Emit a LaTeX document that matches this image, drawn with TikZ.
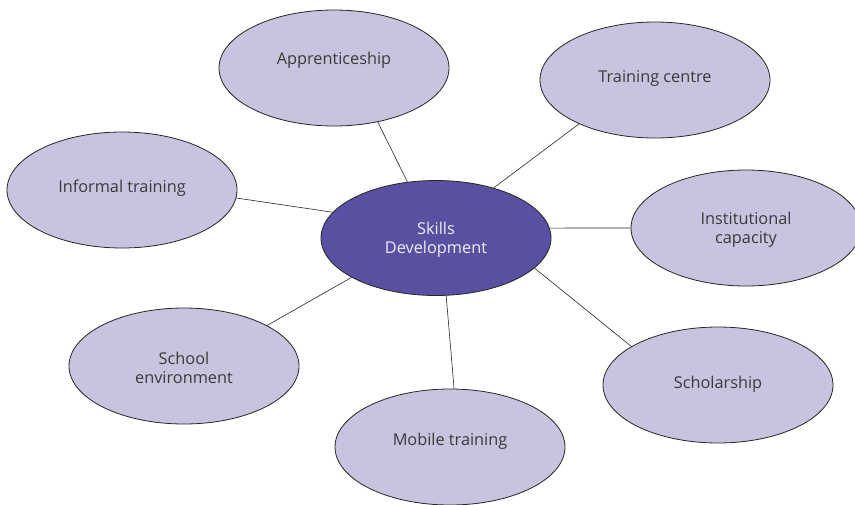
\documentclass[tikz,border=0pt]{standalone}
\usepackage{fontspec}
\setmainfont{Open Sans}
\usetikzlibrary{shapes.geometric}
\definecolor{petal}{HTML}{C8C4E0}
\definecolor{hub}{HTML}{5A50A2}
\definecolor{ink}{HTML}{3A3A3A}
\begin{document}
\begin{tikzpicture}[x=1pt,y=-1pt,
  petalnode/.style={ellipse, draw=black!85, line width=0.8pt, fill=petal,
    minimum width=230pt, minimum height=116pt, inner sep=0pt},
  hubnode/.style={petalnode, fill=hub, minimum height=115pt},
  caption/.style={inner sep=0pt, align=center, text=ink, yshift=-2pt,
    font=\fontsize{16.3}{19.5}\selectfont},
  hubcaption/.style={caption, text=white!90!hub},
  link/.style={draw=black!85, line width=0.6pt}]
\useasboundingbox (0,0) rectangle (855,504);
\clip (0,0) rectangle (855,504);

% ellipses
\node[hubnode]   (hub)   at (436,238) {};
\node[petalnode] (app)   at (334,68)  {};
\node[petalnode] (tc)    at (655,80)  {};
\node[petalnode] (inf)   at (122,190) {};
\node[petalnode] (inst)  at (746,228) {};
\node[petalnode] (schol) at (718,385) {};
\node[petalnode] (mob)   at (450,447) {};
\node[petalnode] (sch)   at (184,366) {};

% captions
\node[hubcaption] (hubt)  at (436,238) {Skills\\Development};
\node[caption] (appt)   at (334,58)  {Apprenticeship};
\node[caption] (tct)    at (655,76)  {Training centre};
\node[caption] (inft)   at (122,186) {Informal training};
\node[caption] (instt)  at (746,228) {Institutional\\capacity};
\node[caption] (scholt) at (718,382) {Scholarship};
\node[caption] (mobt)   at (450,439) {Mobile training};
\node[caption] (scht)   at (184,366) {School\\environment};

% spokes
\draw[link] (app.-51)  -- (hub.117);
\draw[link] (tc.210)   -- (hub.41);
\draw[link] (inf.-4)   -- (hub.166);
\draw[link] (inst.180) -- (hub.5);
\draw[link] (schol.156) -- (hub.-17);
\draw[link] (mob.86)   -- (hub.-80);
\draw[link] (sch.26)   -- (hub.205);
\end{tikzpicture}
\end{document}
